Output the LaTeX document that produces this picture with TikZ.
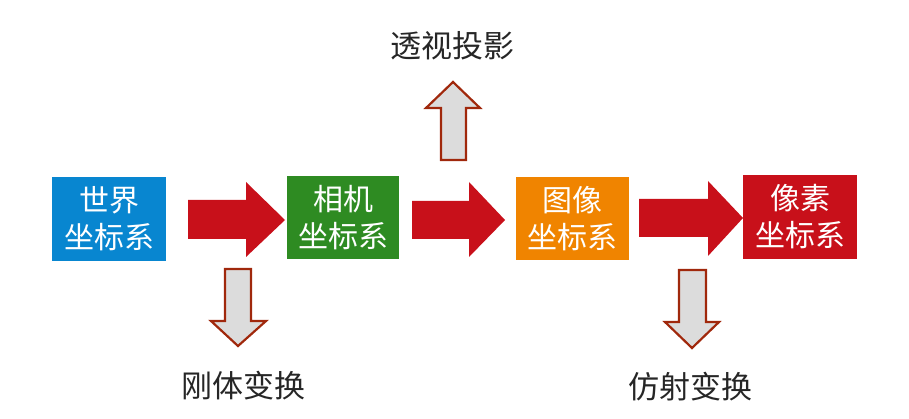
\documentclass[tikz,border=0pt]{standalone}
\usepackage{fontspec}
\setmainfont{Noto Sans CJK SC}
\definecolor{cblue}{RGB}{8,134,208}
\definecolor{cgreen}{RGB}{46,139,34}
\definecolor{corange}{RGB}{240,132,0}
\definecolor{cred}{RGB}{200,16,26}
\definecolor{cgray}{RGB}{220,220,220}
\definecolor{cedge}{RGB}{160,40,12}
\begin{document}
\begin{tikzpicture}[x=1pt,y=-1pt,
  sysbox/.style={minimum width=114pt,minimum height=84pt,inner sep=0pt,text=white,
     font=\fontsize{30}{37}\selectfont,align=center},
  redarrow/.style={fill=cred,draw=none},
  grayarrow/.style={fill=cgray,draw=cedge,line width=2.2pt,line join=miter},
  lbl/.style={font=\fontsize{31}{34}\selectfont,text=black!85,inner sep=0pt}]
\useasboundingbox (0,0) rectangle (909,419);
\node[sysbox,fill=cblue] (world) at (109,219) {世界\\坐标系};
\node[sysbox,fill=cgreen,minimum height=83pt,minimum width=112pt] (cam) at (343,217.5) {相机\\坐标系};
\node[sysbox,fill=corange,minimum height=83pt,minimum width=113pt] (img) at (572.5,218.5) {图像\\坐标系};
\node[sysbox,fill=cred,minimum height=84pt,minimum width=114pt] (pix) at (800,217) {像素\\坐标系};
% red block arrows
\fill[redarrow] (188,200) -- (246,200) -- (246,182) -- (285,220) -- (246,257) -- (246,239) -- (188,239) -- cycle;
\fill[redarrow] (412,201) -- (469,201) -- (469,182) -- (505,220) -- (469,257) -- (469,239) -- (412,239) -- cycle;
\fill[redarrow] (639,199) -- (708,199) -- (708,181) -- (743,218) -- (708,256) -- (708,237) -- (639,237) -- cycle;
% gray arrows
\draw[grayarrow] (225,269) -- (251,269) -- (251,321) -- (266,321) -- (238,346) -- (211,321) -- (225,321) -- cycle;
\draw[grayarrow] (441,160) -- (466,160) -- (466,108) -- (480,108) -- (453,82) -- (426,108) -- (441,108) -- cycle;
\draw[grayarrow] (679,270) -- (706,270) -- (706,322) -- (719,322) -- (692,348) -- (665,322) -- (679,322) -- cycle;
% labels
\node[lbl] (rigid) at (243,386) {刚体变换};
\node[lbl] (proj) at (452,46) {透视投影};
\node[lbl] (affine) at (690,387) {仿射变换};
\end{tikzpicture}
\end{document}
